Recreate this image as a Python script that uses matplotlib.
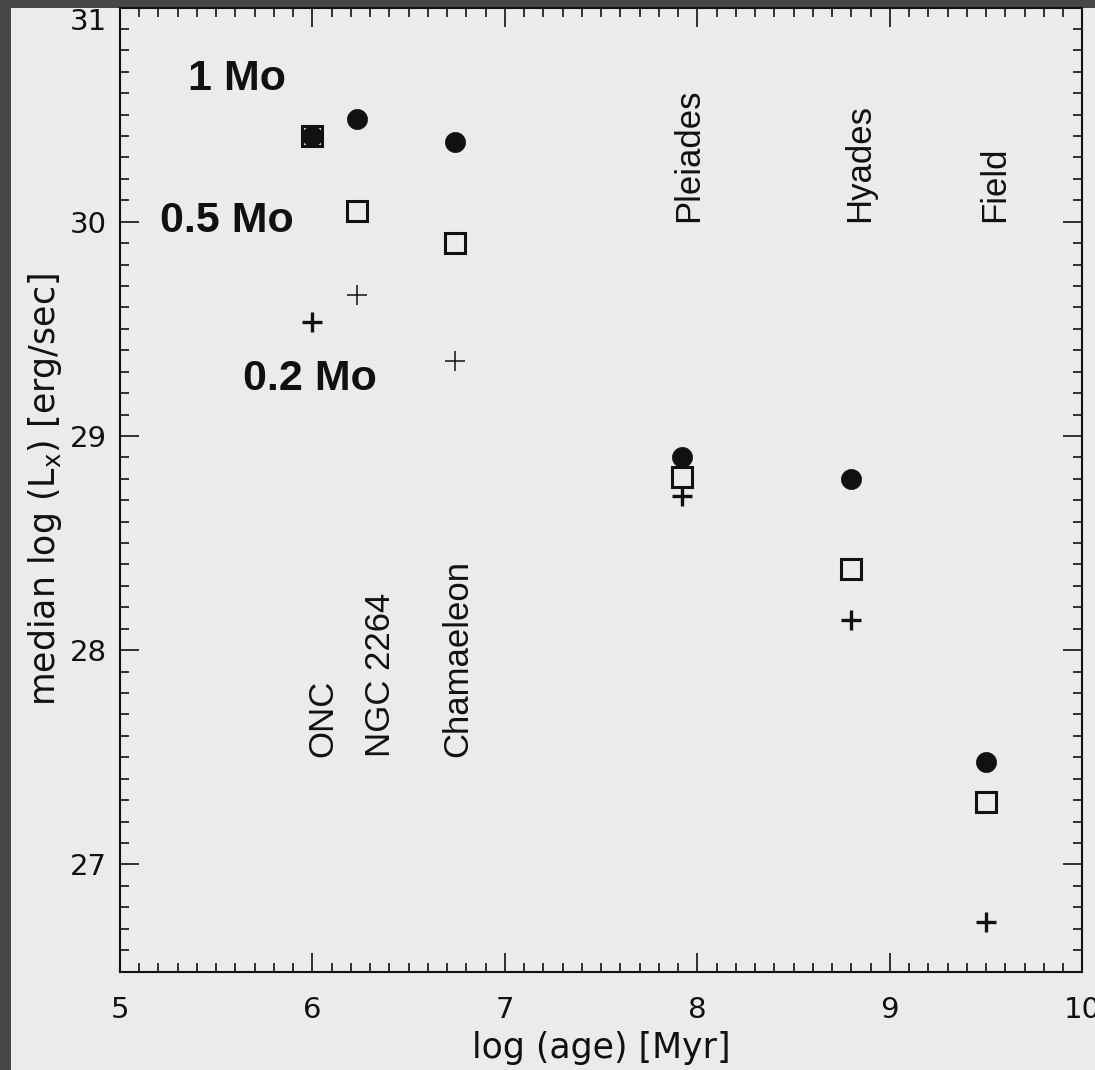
import numpy as np
from matplotlib import pyplot as plt
from matplotlib.patches import Rectangle
from matplotlib.ticker import MultipleLocator

clusters = ["ONC", "NGC 2264", "Chamaeleon", "Pleiades", "Hyades", "Field"]
log_age = [6.00, 6.23, 6.74, 7.92, 8.80, 9.50]
lx_1msun = [30.40, 30.48, 30.37, 28.90, 28.80, 27.48]
lx_05msun = [30.40, 30.05, 29.90, 28.81, 28.38, 27.29]
lx_02msun = [29.53, 29.66, 29.35, 28.72, 28.14, 26.73]

mass_labels = ["1 Mo", "0.5 Mo", "0.2 Mo"]
thin_plus = ["NGC 2264", "Chamaeleon"]

bg = "#ebebeb"
ink = "#111111"

fig = plt.figure(figsize=(10.95, 10.70), dpi=100, facecolor=bg)
# dark frame strips seen at the left and top of the scan
fig.patches.append(Rectangle((0, 0), 11 / 1095, 1, transform=fig.transFigure,
                             facecolor="#474747", edgecolor="none", zorder=-1))
fig.patches.append(Rectangle((0, 1 - 8 / 1070), 1, 8 / 1070, transform=fig.transFigure,
                             facecolor="#474747", edgecolor="none", zorder=-1))

ax = fig.add_axes([120 / 1095, 98.5 / 1070, 962.3 / 1095, 964 / 1070])
ax.set_facecolor(bg)
ax.set_xlim(5, 10)
ax.set_ylim(26.5, 31)

age = np.array(log_age)
thin = np.array([c in thin_plus for c in clusters])

ax.plot(age, lx_1msun, "o", ls="none", ms=14.5, color=ink, mec=ink, mew=0.5)
ax.plot(age, lx_05msun, "s", ls="none", ms=14.6, mfc="none", mec=ink, mew=2.2)
ax.plot(age[~thin], np.array(lx_02msun)[~thin], "+", ls="none", ms=15, mec=ink, mew=2.4)
ax.plot(age[thin], np.array(lx_02msun)[thin], "+", ls="none", ms=15, mec=ink, mew=1.1)

# cluster names, rotated, as in the original figure
young = {"ONC": 6.14, "NGC 2264": 6.44, "Chamaeleon": 6.84}
old = {"Pleiades": 8.04, "Hyades": 8.93, "Field": 9.63}
for name, x in young.items():
    ax.text(x, 27.5, name, rotation=90, ha="right", va="bottom",
            fontsize=25, family="Liberation Sans", color=ink)
for name, x in old.items():
    ax.text(x, 30.0, name, rotation=90, ha="right", va="bottom",
            fontsize=25, family="Liberation Sans", color=ink)

for label, (x, y) in zip(mass_labels, [(5.353, 30.615), (5.208, 29.951), (5.639, 29.214)]):
    ax.text(x, y, label, ha="left", va="baseline", fontsize=31,
            fontweight="bold", family="Liberation Sans", color=ink)

ax.xaxis.set_major_locator(MultipleLocator(1))
ax.xaxis.set_minor_locator(MultipleLocator(0.1))
ax.yaxis.set_major_locator(MultipleLocator(1))
ax.yaxis.set_minor_locator(MultipleLocator(0.1))
ax.tick_params(which="both", direction="in", top=True, right=True,
               width=1.2, color=ink, labelcolor=ink, labelsize=21)
ax.tick_params(which="major", length=13.7)
ax.tick_params(which="minor", length=6.8)
ax.tick_params(axis="x", pad=18)
ax.tick_params(axis="y", pad=9.5)
for s in ax.spines.values():
    s.set_linewidth(1.5)
    s.set_color(ink)

ax.set_xlabel("log (age) [Myr]", fontsize=25, labelpad=5, color=ink)
ax.set_ylabel(r"median log (L$_{\rm x}$) [erg/sec]", fontsize=25, labelpad=4, color=ink)

for lab in ax.get_yticklabels():
    if lab.get_text() == "31":
        lab.set_va("top")

fig.savefig("out.png", dpi=100, facecolor=bg)
